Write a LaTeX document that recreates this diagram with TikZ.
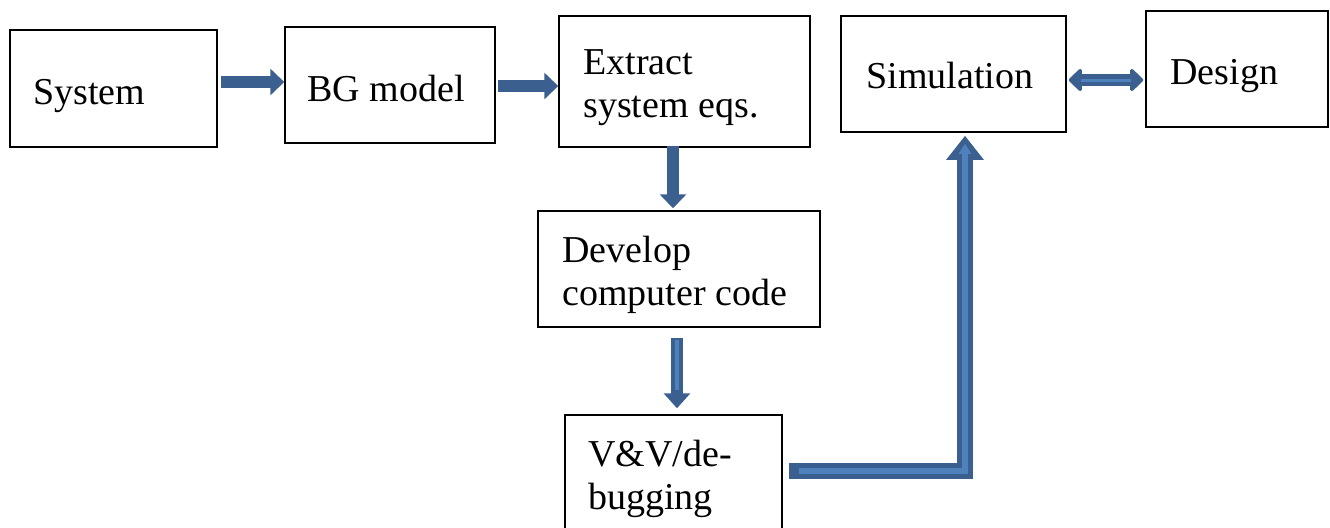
\documentclass[tikz,border=0pt]{standalone}
\usepackage{fontspec}
\setmainfont{Liberation Serif}
\usetikzlibrary{arrows.meta}
\definecolor{arrdark}{HTML}{3B5F8F}
\definecolor{arrlight}{HTML}{4F81BD}
\tikzset{
  x=0.5pt, y=-0.5pt,
  box/.style={draw=black, line width=0.75pt, fill=white, inner sep=0pt},
  lbl/.style={anchor=base west, align=left, inner sep=0pt, font=\fontsize{19}{21.5}\selectfont},
  barrow/.style={draw=arrdark, line width=6pt, -{Triangle[width=13pt,length=7pt]}},
  innerline/.style={draw=arrlight, line width=2pt},
}
\begin{document}
\begin{tikzpicture}
\useasboundingbox (0,0) rectangle (1330,527);
\clip (0,0) rectangle (1330,527);
% boxes
\node[box, minimum width=103.5pt, minimum height=58.5pt] (sys) at (113.5,88.5) {};
\node[box, minimum width=105pt, minimum height=58pt] (bg) at (390,85) {};
\node[box, minimum width=125.5pt, minimum height=65.5pt] (ext) at (684.5,81.5) {};
\node[box, minimum width=112.5pt, minimum height=58pt] (sim) at (953.5,74) {};
\node[box, minimum width=91pt, minimum height=58pt] (des) at (1237,69) {};
\node[box, minimum width=141pt, minimum height=58pt] (dev) at (679,269) {};
\node[box, minimum width=108.5pt, minimum height=62.5pt] (vv) at (673.5,477.5) {};
% labels (base = baseline of the last line)
\node[lbl] (tsys) at (33,104) {System};
\node[lbl] (tbg) at (307,101) {BG model};
\node[lbl] (text) at (583,117) {Extract\\system eqs.};
\node[lbl] (tsim) at (866,88) {Simulation};
\node[lbl] (tdes) at (1170,84) {Design};
\node[lbl] (tdev) at (562,305) {Develop\\computer code};
\node[lbl] (tvv) at (588,509) {V\&V/de-\\bugging};
% arrows
\draw[barrow] ([xshift=1.5pt,yshift=3.25pt]sys.east) -- ([yshift=1.5pt]bg.west);
\draw[barrow] ([xshift=1pt,yshift=-0.5pt]bg.east) -- ([yshift=-2.25pt]ext.west);
\draw[barrow] ([xshift=-5.75pt,yshift=1pt]ext.south) -- ([xshift=-3pt,yshift=1pt]dev.north);
\draw[barrow, -{Triangle[width=13pt,length=7.5pt]}] ([xshift=-1pt,yshift=-5pt]dev.south) -- ([xshift=1.75pt,yshift=3pt]vv.north);
\draw[innerline] ([xshift=-1pt,yshift=-6pt]dev.south) -- ([xshift=1.75pt,yshift=12pt]vv.north);
% bent arrow to simulation
\draw[draw=arrdark, line width=8pt, line join=miter, -{Triangle[width=18pt,length=12pt]}]
  ([xshift=3pt,yshift=3.25pt]vv.east) coordinate (bs) -| ([xshift=5.75pt,yshift=-1.5pt]sim.south) coordinate (be);
\draw[draw=arrlight, line width=3pt, line join=miter, -{Triangle[width=6pt,length=5pt]}]
  ([xshift=5pt]bs) -| ([yshift=-4pt]be);
% double arrow
\draw[draw=arrdark, line width=6pt, {Triangle[width=13pt,length=7pt,round]}-{Triangle[width=13pt,length=7pt,round]}]
  ([xshift=1pt,yshift=-3pt]sim.east) -- ([xshift=-1pt,yshift=-5.5pt]des.west);
\draw[draw=arrlight, line width=1.5pt] ([xshift=7pt,yshift=-3pt]sim.east) -- ([xshift=-7pt,yshift=-5.5pt]des.west);
\end{tikzpicture}
\end{document}
